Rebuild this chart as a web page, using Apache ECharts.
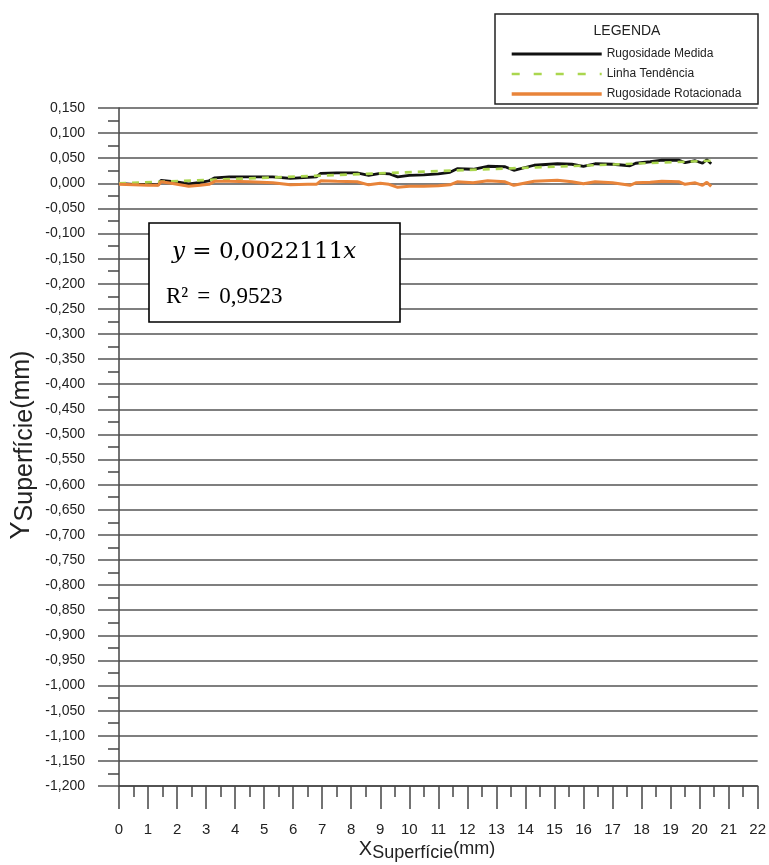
<!DOCTYPE html>
<html>
<head>
<meta charset="utf-8">
<script src="https://cdn.jsdelivr.net/npm/echarts@6/dist/echarts.min.js"></script>
<style>
html,body{margin:0;padding:0;background:#fff;}
#chart{width:769px;height:865px;}
</style>
</head>
<body>
<div id="chart"></div>
<script>
// ---- data ----
const xPos = [0.0,0.5,1.0,1.35,1.45,1.8,2.1,2.4,2.8,3.1,3.3,3.8,4.5,5.3,5.9,6.5,6.8,6.95,7.5,8.2,8.6,9.0,9.3,9.6,10.0,10.5,11.0,11.4,11.65,12.2,12.7,13.3,13.6,14.3,15.1,15.6,16.0,16.4,17.0,17.6,17.8,18.3,18.7,19.3,19.5,19.85,20.1,20.25,20.4];
const yMedida = [0.000,-0.002,-0.002,-0.003,0.006,0.004,0.002,-0.001,0.002,0.005,0.011,0.013,0.013,0.013,0.010,0.012,0.013,0.020,0.021,0.021,0.016,0.020,0.019,0.013,0.016,0.017,0.019,0.022,0.029,0.028,0.034,0.033,0.026,0.036,0.039,0.038,0.034,0.039,0.038,0.035,0.040,0.043,0.046,0.046,0.041,0.045,0.040,0.047,0.039];
const yRotacionada = [-0.002,-0.003,-0.004,-0.004,0.003,0.000,-0.003,-0.006,-0.004,-0.002,0.004,0.004,0.003,0.001,-0.003,-0.002,-0.002,0.005,0.004,0.003,-0.003,0.000,-0.002,-0.008,-0.006,-0.006,-0.005,-0.003,0.003,0.001,0.005,0.003,-0.004,0.004,0.006,0.003,-0.001,0.003,0.001,-0.004,0.001,0.002,0.004,0.003,-0.002,0.001,-0.004,0.002,-0.006];
const trendX = [0, 20.4];
const trendY = [0, 0.0451];
const seriesNames = ['Rugosidade Medida','Linha Tendência','Rugosidade Rotacionada'];
const legendTitle = 'LEGENDA';
const eqText = '0,0022111';
const r2Value = '0,9523';

const pairs = (xs, ys) => xs.map((x, i) => [x, ys[i]]);

const SANS = 'Liberation Sans, Arial, sans-serif';
const NARROW = "'Liberation Sans Narrow', 'Arial Narrow', Liberation Sans, Arial, sans-serif";
const SERIF = 'Liberation Serif, Times New Roman, serif';
const AX = '#454545';
const noSym = {opacity:0};

const chart = echarts.init(document.getElementById('chart'), null, {renderer:'canvas'});
chart.setOption({
  backgroundColor:'#fff',
  animation:false,
  grid:{left:119, right:7, top:108, bottom:79},
  xAxis:{
    type:'value', min:0, max:22, interval:1,
    axisLine:{show:true, onZero:false, lineStyle:{color:AX, width:1.5}},
    axisTick:{show:true, length:23, lineStyle:{color:AX, width:1.5}},
    minorTick:{show:true, splitNumber:2, length:11, lineStyle:{color:AX, width:1.5}},
    splitLine:{show:false},
    axisLabel:{margin:36, fontSize:15, color:'#222', fontFamily:NARROW}
  },
  yAxis:{
    type:'value', min:-1.2, max:0.15, interval:0.05,
    axisLine:{show:true, lineStyle:{color:AX, width:1.5}},
    axisTick:{show:true, length:21, lineStyle:{color:'#555', width:1.5}},
    minorTick:{show:true, splitNumber:2, length:11, lineStyle:{color:AX, width:1.5}},
    splitLine:{show:true, lineStyle:{color:'#555', width:1.5}},
    axisLabel:{margin:34, fontSize:14, color:'#222', fontFamily:SANS,
      formatter:v => (Math.abs(v) < 1e-9 ? 0 : v).toFixed(3).replace('.', ',')}
  },
  legend:{
    orient:'vertical', left:505, top:43, itemWidth:90, itemHeight:12, itemGap:8,
    selectedMode:false, z:20,
    textStyle:{fontSize:12, color:'#222', fontFamily:SANS},
    data:[
      {name:seriesNames[0], itemStyle:noSym, lineStyle:{width:3}},
      {name:seriesNames[1], itemStyle:noSym, lineStyle:{type:[8,14], width:2.6}},
      {name:seriesNames[2], itemStyle:noSym, lineStyle:{width:3.4}}
    ]
  },
  series:[
    {name:seriesNames[0], type:'line', symbol:'none', data:pairs(xPos, yMedida),
      lineStyle:{color:'#111', width:2.8}, itemStyle:{color:'#111'}},
    {name:seriesNames[1], type:'line', symbol:'none', data:pairs(trendX, trendY),
      lineStyle:{color:'#aad64e', width:2.6, type:[7,6]}, itemStyle:{color:'#aad64e'}},
    {name:seriesNames[2], type:'line', symbol:'none', data:pairs(xPos, yRotacionada),
      lineStyle:{color:'#e8843a', width:3}, itemStyle:{color:'#e8843a'}}
  ],
  graphic:[
    {type:'rect', z:10, shape:{x:495, y:14, width:263, height:90},
      style:{fill:'#fff', stroke:'#222', lineWidth:1.5}},
    {type:'text', z:11, x:627, y:31,
      style:{text:legendTitle, fontSize:14, fill:'#222', fontFamily:SANS, align:'center', verticalAlign:'middle'}},
    {type:'rect', z:10, shape:{x:149, y:223, width:251, height:99},
      style:{fill:'#fff', stroke:'#000', lineWidth:1.6}},
    {type:'text', z:11, x:172, y:252,
      style:{text:'{i|y}{n| = ' + eqText + '}{i|x}', verticalAlign:'middle',
        rich:{i:{fontFamily:'DejaVu Serif', fontStyle:'italic', fontSize:23, fill:'#000'},
              n:{fontFamily:'DejaVu Serif', fontSize:23, fill:'#000'}}}},
    {type:'text', z:11, x:166, y:297,
      style:{text:'{r|R²}{e|=}{r|' + r2Value + '}', verticalAlign:'middle',
        rich:{r:{fontFamily:SERIF, fontSize:23, fill:'#000'},
              e:{fontFamily:SERIF, fontSize:23, fill:'#000', padding:[0,9,0,9]}}}},
    {type:'text', z:11, x:427, y:849,
      style:{text:'{a|X}{b|Superfície}{c|(mm)}', align:'center', verticalAlign:'middle',
        rich:{a:{fontSize:20, fontFamily:SANS, fill:'#222', lineHeight:26, verticalAlign:'middle'},
              b:{fontSize:18, fontFamily:SANS, fill:'#222', lineHeight:18, verticalAlign:'bottom'},
              c:{fontSize:18, fontFamily:SANS, fill:'#222', lineHeight:26, verticalAlign:'middle'}}}},
    {type:'text', z:11, x:22, y:445, rotation:Math.PI/2,
      style:{text:'{a|Y}{b|Superfície}{c|(mm)}', align:'center', verticalAlign:'middle',
        rich:{a:{fontSize:27, fontFamily:SANS, fill:'#222', lineHeight:32, verticalAlign:'middle'},
              b:{fontSize:25, fontFamily:SANS, fill:'#222', lineHeight:28, verticalAlign:'bottom'},
              c:{fontSize:25, fontFamily:SANS, fill:'#222', lineHeight:32, verticalAlign:'middle'}}}}
  ]
});
</script>
</body>
</html>
